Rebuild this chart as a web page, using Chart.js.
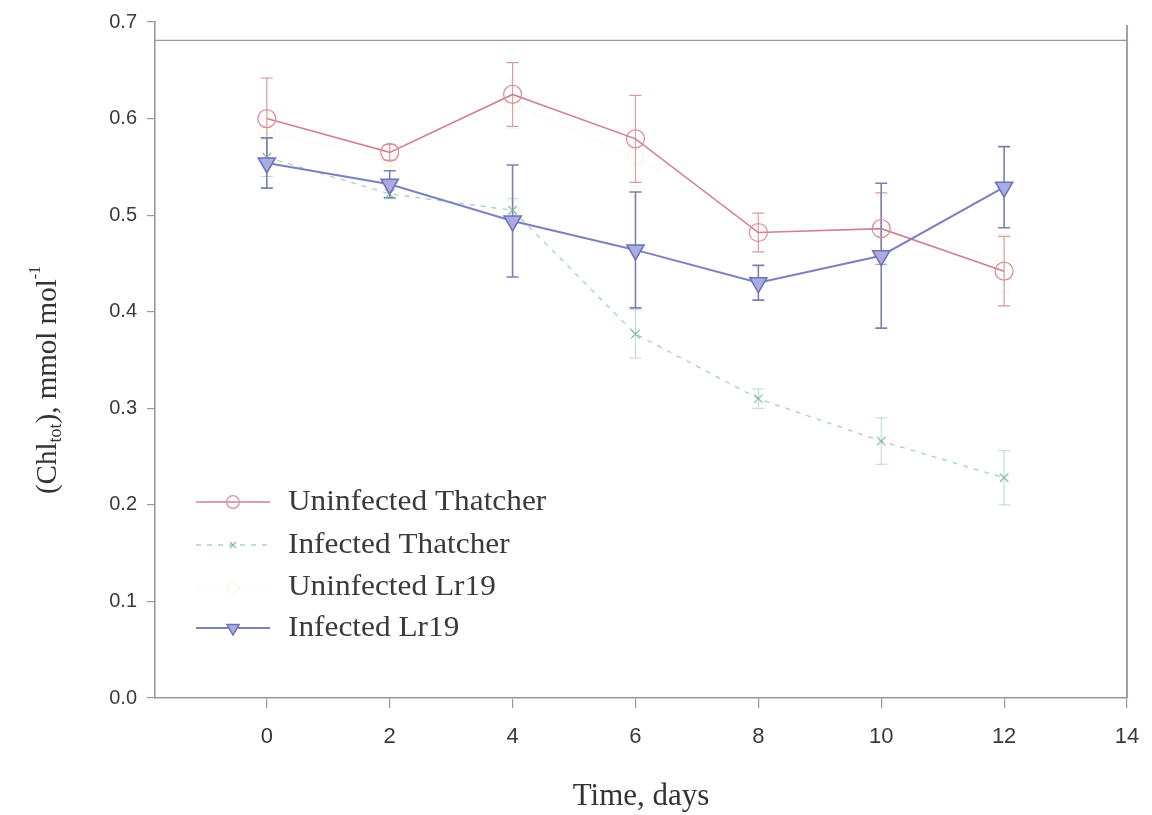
<!DOCTYPE html>
<html>
<head>
<meta charset="utf-8">
<title>Chlorophyll content over time</title>
<script src="https://cdn.jsdelivr.net/npm/chart.js@4.4.1/dist/chart.umd.min.js"></script>
<style>
  html, body { margin: 0; padding: 0; background: #ffffff; }
  #wrap { width: 1152px; height: 815px; }
</style>
</head>
<body>
<div id="wrap"><canvas id="chl" width="1152" height="815"></canvas></div>
<script>
// Sampling days and axis ticks
const days = [0, 2, 4, 6, 8, 10, 12];
const xTicks = [0, 2, 4, 6, 8, 10, 12, 14];
const yTicks = [0, 0.1, 0.2, 0.3, 0.4, 0.5, 0.6, 0.7];

// Total chlorophyll, mmol mol^-1 (means and standard errors)
const uninfectedThatcher    = [0.600, 0.565, 0.625, 0.579, 0.482, 0.486, 0.442];
const uninfectedThatcherErr = [0.042, 0.008, 0.033, 0.045, 0.020, 0.037, 0.036];

const infectedThatcher    = [0.560, 0.522, 0.505, 0.377, 0.310, 0.266, 0.228];
const infectedThatcherErr = [0.020, 0.005, 0.012, 0.025, 0.010, 0.024, 0.028];

const uninfectedLr19    = [0.585, 0.560, 0.615, 0.560, 0.490, 0.490, 0.450];
const uninfectedLr19Err = [0.020, 0.010, 0.025, 0.030, 0.012, 0.030, 0.030];

const infectedLr19    = [0.554, 0.532, 0.494, 0.464, 0.430, 0.458, 0.529];
const infectedLr19Err = [0.026, 0.014, 0.058, 0.060, 0.018, 0.075, 0.042];

const seriesNames = ['Uninfected Thatcher', 'Infected Thatcher', 'Uninfected Lr19', 'Infected Lr19'];

const SERIF = "'Liberation Serif', 'Times New Roman', 'DejaVu Serif', serif";
const SANS = "'Liberation Sans', Arial, 'DejaVu Sans', sans-serif";
const NARROW = "'Liberation Sans Narrow', 'Liberation Sans', Arial, sans-serif";
const AXIS_COLOR = '#9499a6';

function pts(values) {
  return days.map((d, i) => ({ x: d, y: values[i] }));
}

// Vertical error bars with caps, positioned through the chart scales
const errorBars = {
  id: 'errorBars',
  beforeDatasetsDraw(chart) {
    const ctx = chart.ctx;
    const ys = chart.scales.y;
    chart.data.datasets.forEach((ds, di) => {
      if (!ds.errors) return;
      const meta = chart.getDatasetMeta(di);
      ctx.save();
      ctx.strokeStyle = ds.errorColor;
      ctx.lineWidth = ds.errorWidth;
      meta.data.forEach((el, i) => {
        const v = ds.data[i].y, e = ds.errors[i];
        const yTop = ys.getPixelForValue(v + e);
        const yBot = ys.getPixelForValue(v - e);
        const x = el.x, c = 6;
        ctx.beginPath();
        ctx.moveTo(x, yTop); ctx.lineTo(x, yBot);
        ctx.moveTo(x - c, yTop); ctx.lineTo(x + c, yTop);
        ctx.moveTo(x - c, yBot); ctx.lineTo(x + c, yBot);
        ctx.stroke();
      });
      ctx.restore();
    });
  }
};

// Right and top frame lines of the plot box
const frame = {
  id: 'frame',
  afterDraw(chart) {
    const ctx = chart.ctx;
    const xs = chart.scales.x, ys = chart.scales.y;
    const xr = xs.getPixelForValue(14);
    const yTopLine = ys.getPixelForValue(0.681);
    ctx.save();
    ctx.strokeStyle = '#7d82a0';
    ctx.lineWidth = 1.5;
    ctx.beginPath();
    ctx.moveTo(xr, ys.getPixelForValue(0.697));
    ctx.lineTo(xr, ys.getPixelForValue(0));
    ctx.stroke();
    ctx.strokeStyle = AXIS_COLOR;
    ctx.lineWidth = 1.2;
    ctx.beginPath();
    ctx.moveTo(chart.chartArea.left, yTopLine);
    ctx.lineTo(xr, yTopLine);
    ctx.stroke();
    ctx.restore();
  }
};

// Y-axis title with subscript and superscript
const yTitle = {
  id: 'yTitle',
  afterDraw(chart) {
    const ctx = chart.ctx;
    const parts = [
      { t: '(Chl', size: 29, dy: 0 },
      { t: 'tot', size: 18, dy: 8 },
      { t: '), mmol mol', size: 29, dy: 0 },
      { t: '-1', size: 16, dy: -12 }
    ];
    ctx.save();
    let total = 0;
    parts.forEach(p => { ctx.font = p.size + 'px ' + SERIF; p.w = ctx.measureText(p.t).width; total += p.w; });
    ctx.translate(48, 380);
    ctx.rotate(-Math.PI / 2);
    ctx.fillStyle = '#333333';
    ctx.textBaseline = 'middle';
    let x = -total / 2;
    parts.forEach(p => {
      ctx.font = p.size + 'px ' + SERIF;
      ctx.fillText(p.t, x, p.dy);
      x += p.w;
    });
    ctx.restore();
  }
};

// Legend inside the plot, lower left, using each dataset's own styling
const insideLegend = {
  id: 'insideLegend',
  afterDraw(chart) {
    const ctx = chart.ctx;
    const rows = [502, 545, 587, 628];
    ctx.save();
    chart.data.datasets.forEach((ds, i) => {
      const y = rows[i];
      ctx.save();
      ctx.strokeStyle = ds.borderColor;
      ctx.lineWidth = ds.borderWidth;
      ctx.setLineDash(ds.borderDash || []);
      ctx.beginPath();
      ctx.moveTo(196, y); ctx.lineTo(270, y);
      ctx.stroke();
      ctx.setLineDash([]);
      ctx.fillStyle = ds.pointBackgroundColor;
      ctx.strokeStyle = ds.pointBorderColor;
      ctx.lineWidth = ds.pointBorderWidth;
      Chart.helpers.drawPoint(ctx, {
        pointStyle: ds.pointStyle,
        rotation: ds.pointRotation || 0,
        radius: ds.pointRadius * 0.7,
        borderWidth: ds.pointBorderWidth
      }, 233, y);
      ctx.restore();
      ctx.save();
      ctx.translate(288, y);
      ctx.scale(1.08, 1);
      ctx.font = '29px ' + SERIF;
      ctx.fillStyle = '#3a3a3a';
      ctx.textBaseline = 'middle';
      ctx.fillText(seriesNames[i], 0, 0);
      ctx.restore();
    });
    ctx.restore();
  }
};

const datasets = [
  {
    label: seriesNames[0],
    data: pts(uninfectedThatcher),
    errors: uninfectedThatcherErr,
    errorColor: '#d39aa8', errorWidth: 1.2,
    borderColor: '#cf8095', borderWidth: 1.6,
    pointStyle: 'circle', pointRadius: 9,
    pointBackgroundColor: 'rgba(255,255,255,0)',
    pointBorderColor: '#d98fa2', pointBorderWidth: 1.3,
    order: 1
  },
  {
    label: seriesNames[1],
    data: pts(infectedThatcher),
    errors: infectedThatcherErr,
    errorColor: 'rgba(140,195,170,0.6)', errorWidth: 1,
    borderColor: 'rgba(130,190,165,0.7)', borderWidth: 1.3, borderDash: [5, 6],
    pointStyle: 'crossRot', pointRadius: 6,
    pointBackgroundColor: 'rgba(255,255,255,0)',
    pointBorderColor: 'rgba(120,180,155,0.85)', pointBorderWidth: 1.3,
    order: 2
  },
  {
    label: seriesNames[2],
    data: pts(uninfectedLr19),
    errors: uninfectedLr19Err,
    errorColor: 'rgba(235,205,130,0.25)', errorWidth: 1,
    borderColor: 'rgba(235,205,130,0.15)', borderWidth: 1,
    pointStyle: 'circle', pointRadius: 8,
    pointBackgroundColor: 'rgba(255,255,255,0)',
    pointBorderColor: 'rgba(235,205,130,0.25)', pointBorderWidth: 1,
    order: 3
  },
  {
    label: seriesNames[3],
    data: pts(infectedLr19),
    errors: infectedLr19Err,
    errorColor: '#7b7fb2', errorWidth: 1.6,
    borderColor: '#7c80bf', borderWidth: 2,
    pointStyle: 'triangle', pointRotation: 180, pointRadius: 10,
    pointBackgroundColor: '#a9abe2',
    pointBorderColor: '#6e73b8', pointBorderWidth: 1.5,
    order: 0
  }
];

new Chart(document.getElementById('chl'), {
  type: 'line',
  data: { datasets },
  options: {
    responsive: false,
    devicePixelRatio: 1,
    animation: false,
    layout: { padding: { top: 20, right: 25, left: 0, bottom: 0 } },
    plugins: {
      legend: { display: false },
      tooltip: { enabled: false }
    },
    elements: { line: { tension: 0 } },
    scales: {
      x: {
        type: 'linear',
        min: -1.82,
        max: 14,
        afterBuildTicks: s => { s.ticks = xTicks.map(v => ({ value: v })); },
        afterFit: s => { s.height = 117; s.paddingRight = 0; s.paddingLeft = 0; },
        ticks: {
          font: { family: NARROW, size: 22 },
          color: '#3a3a3a',
          padding: 16,
          maxRotation: 0,
          callback: v => String(v)
        },
        grid: { drawOnChartArea: false, drawTicks: true, tickLength: 10, color: AXIS_COLOR, lineWidth: 1.2 },
        border: { display: true, color: AXIS_COLOR, width: 1.6 },
        title: {
          display: true,
          text: 'Time, days',
          font: { family: SERIF, size: 31 },
          color: '#333333',
          padding: { top: 0, bottom: 0 }
        }
      },
      y: {
        type: 'linear',
        min: 0,
        max: 0.7,
        afterBuildTicks: s => { s.ticks = yTicks.map(v => ({ value: v })); },
        afterFit: s => { s.width = 155; },
        ticks: {
          font: { family: SANS, size: 20 },
          color: '#3a3a3a',
          padding: 10,
          callback: v => Number(v).toFixed(1)
        },
        grid: { drawOnChartArea: false, drawTicks: true, tickLength: 8, color: AXIS_COLOR, lineWidth: 1.2 },
        border: { display: true, color: AXIS_COLOR, width: 1.6 }
      }
    }
  },
  plugins: [errorBars, frame, yTitle, insideLegend]
});
</script>
</body>
</html>
